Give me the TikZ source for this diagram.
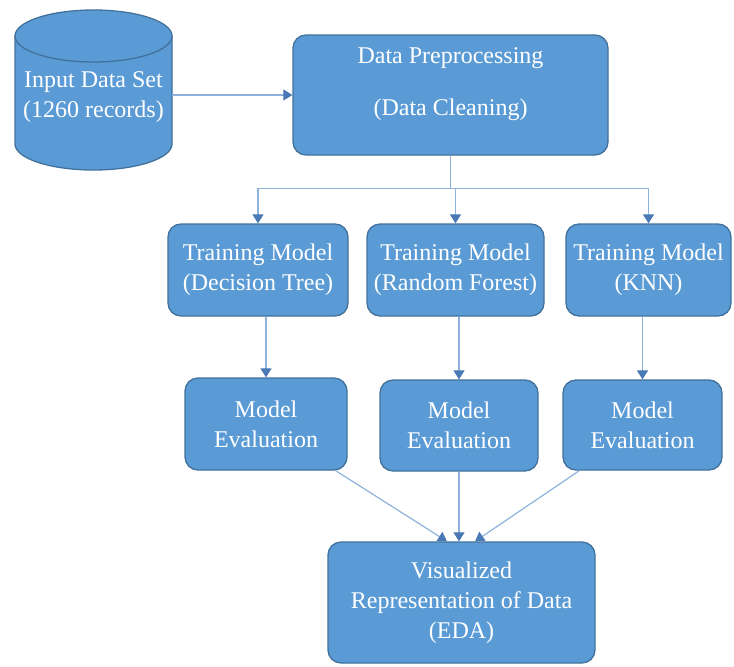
\documentclass[tikz,border=0pt]{standalone}
\usepackage{fontspec}
\setmainfont{Liberation Serif}
\usetikzlibrary{arrows.meta,calc}

\definecolor{boxblue}{HTML}{5B9BD5}
\definecolor{boxedge}{HTML}{41719C}
\definecolor{linkblue}{HTML}{8FB2DB}
\definecolor{tipblue}{HTML}{4A7AB5}

\tikzset{
  boxtext/.style={text=white, align=center, inner sep=0pt,
    font=\rmfamily\fontsize{24}{30}\selectfont},
  flowbox/.style={boxtext, draw=boxedge, line width=1.3pt, fill=boxblue,
    rounded corners=13pt},
  cylpart/.style={draw=boxedge, line width=1.3pt, fill=boxblue},
  link/.style={draw=linkblue, line width=1.2pt,
    -{Triangle[length=9pt,width=11pt,color=tipblue]}},
}

\begin{document}
\begin{tikzpicture}[x=1pt,y=1pt]
  \fill[white] (0,0) rectangle (734,-667);
  \useasboundingbox (0,0) rectangle (734,-667);

  % input data store (cylinder)
  \filldraw[cylpart] (15,-36) -- (15,-144)
    arc[start angle=180, end angle=360, x radius=78.5, y radius=26]
    -- (172,-36);
  \filldraw[cylpart] (93.5,-36) ellipse [x radius=78.5, y radius=26];
  \node[boxtext] (input) at (93.5,-97) {Input Data Set\\(1260 records)};
  \coordinate (inputR) at (172,-95);

  % preprocessing
  \node[flowbox, minimum width=315pt, minimum height=120pt] (dp) at (450.5,-95) {};
  \node[boxtext] (dptext) at (450.5,-84) {Data Preprocessing\\[22pt](Data Cleaning)};

  % training models
  \node[flowbox, minimum width=180pt, minimum height=92pt] (t1) at (258,-270)
    {Training Model\\(Decision Tree)};
  \node[flowbox, minimum width=177pt, minimum height=92pt] (t2) at (455.5,-270)
    {Training Model\\(Random Forest)};
  \node[flowbox, minimum width=165pt, minimum height=92pt] (t3) at (648.5,-270)
    {Training Model\\(KNN)};

  % evaluation
  \node[flowbox, minimum width=162pt, minimum height=92pt] (e1) at (266,-424)
    {Model\\Evaluation};
  \node[flowbox, minimum width=158pt, minimum height=91pt] (e2) at (459,-425.5)
    {Model\\Evaluation};
  \node[flowbox, minimum width=159pt, minimum height=90pt] (e3) at (642.5,-425)
    {Model\\Evaluation};

  % visualisation
  \node[flowbox, minimum width=267pt, minimum height=121pt] (v) at (461.5,-602.5)
    {Visualized\\Representation of Data\\(EDA)};

  % connectors
  \draw[link] (inputR) -- (dp.west);
  \draw[link] (dp.south) -- ++(0,-33) -| (t1.north);
  \draw[link] (dp.south) -- ++(0,-33) -| (t2.north);
  \draw[link] (dp.south) -- ++(0,-33) -| (t3.north);

  \draw[link] (t1.south -| e1.north) -- (e1.north);
  \draw[link] (t2.south -| e2.north) -- (e2.north);
  \draw[link] (t3.south -| e3.north) -- (e3.north);

  \draw[link] ($(e1.south east)+(-12,0)$) -- ($(v.north)+(-14.5,0)$);
  \draw[link] (e2.south) -- (e2.south |- v.north);
  \draw[link] ($(e3.south west)+(17,0)$) -- ($(v.north)+(13.5,0)$);
\end{tikzpicture}
\end{document}
